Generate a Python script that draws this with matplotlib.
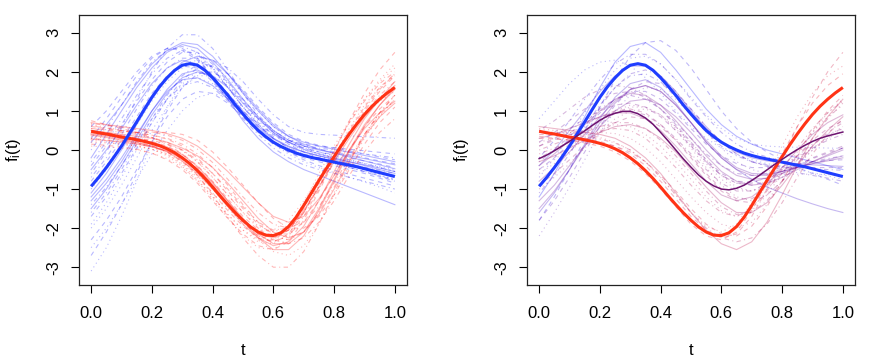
import numpy as np
import matplotlib
matplotlib.use("Agg")
import matplotlib.pyplot as plt

plt.rcParams['font.family'] = ['Liberation Sans', 'DejaVu Sans']

# ---------------- data ----------------
t_mean = [i * 0.025 for i in range(41)]
t_thin = [i * 0.05 for i in range(21)]

blue_mean = [-0.93, -0.70, -0.45, -0.18, 0.10, 0.41, 0.72, 1.04, 1.35, 1.62, 1.85, 2.04, 2.17, 2.21,
             2.17, 2.04, 1.85, 1.63, 1.40, 1.15, 0.92, 0.70, 0.50, 0.34, 0.20, 0.09, 0.00, -0.08,
             -0.14, -0.19, -0.23, -0.27, -0.31, -0.35, -0.39, -0.43, -0.48, -0.53, -0.58, -0.63, -0.68]
red_mean = [0.48, 0.44, 0.41, 0.37, 0.33, 0.30, 0.26, 0.22, 0.17, 0.11, 0.03, -0.07, -0.20, -0.35,
            -0.53, -0.73, -0.95, -1.18, -1.40, -1.61, -1.80, -1.97, -2.10, -2.18, -2.19, -2.12, -1.96,
            -1.72, -1.42, -1.10, -0.78, -0.47, -0.17, 0.13, 0.41, 0.67, 0.91, 1.12, 1.30, 1.46, 1.60]
purple_mean = [-0.22, -0.13, -0.02, 0.10, 0.22, 0.36, 0.49, 0.63, 0.76, 0.87, 0.94, 0.99, 0.99, 0.93,
               0.82, 0.66, 0.45, 0.23, 0.00, -0.23, -0.44, -0.64, -0.80, -0.92, -1.00, -1.02, -0.98,
               -0.90, -0.78, -0.65, -0.51, -0.37, -0.24, -0.11, 0.01, 0.12, 0.22, 0.30, 0.36, 0.41, 0.46]

blue_curves = [
    [-0.2, 0.4, 1.0, 1.6, 2.1, 2.5, 2.7, 2.6, 2.25, 1.8, 1.3, 0.85, 0.5, 0.25, 0.1, 0.0, -0.08, -0.15, -0.22, -0.3, -0.38],
    [-2.3, -1.8, -1.2, -0.5, 0.2, 0.85, 1.3, 1.5, 1.45, 1.2, 0.85, 0.5, 0.2, -0.05, -0.25, -0.4, -0.52, -0.62, -0.72, -0.82, -0.92],
    [-3.1, -2.5, -1.7, -0.8, 0.2, 1.1, 1.75, 2.0, 1.85, 1.45, 0.95, 0.5, 0.15, -0.1, -0.3, -0.45, -0.58, -0.7, -0.82, -0.95, -1.1],
    [-0.6, -0.05, 0.6, 1.3, 2.0, 2.6, 2.95, 2.95, 2.6, 2.05, 1.45, 0.9, 0.5, 0.25, 0.12, 0.05, 0.0, -0.05, -0.1, -0.15, -0.2],
    [-1.3, -0.85, -0.3, 0.35, 1.0, 1.55, 1.95, 2.05, 1.85, 1.45, 1.0, 0.6, 0.3, 0.1, -0.05, -0.15, -0.25, -0.35, -0.45, -0.55, -0.65],
    [0.3, 0.8, 1.35, 1.9, 2.35, 2.6, 2.6, 2.35, 1.9, 1.4, 0.95, 0.6, 0.35, 0.2, 0.1, 0.02, -0.05, -0.12, -0.2, -0.28, -0.35],
    [-1.0, -0.5, 0.05, 0.65, 1.25, 1.75, 2.1, 2.25, 2.15, 1.85, 1.45, 1.0, 0.6, 0.3, 0.1, -0.05, -0.15, -0.25, -0.35, -0.45, -0.55],
    [-1.6, -1.1, -0.5, 0.15, 0.8, 1.4, 1.9, 2.2, 2.3, 2.1, 1.75, 1.3, 0.9, 0.6, 0.45, 0.4, 0.38, 0.36, 0.34, 0.32, 0.3],
    [-0.5, 0.0, 0.55, 1.15, 1.7, 2.1, 2.3, 2.2, 1.8, 1.3, 0.75, 0.3, -0.05, -0.3, -0.5, -0.65, -0.8, -0.95, -1.1, -1.25, -1.4],
    [-0.8, -0.3, 0.25, 0.85, 1.45, 1.9, 2.15, 2.1, 1.75, 1.3, 0.85, 0.45, 0.15, -0.05, -0.2, -0.3, -0.4, -0.5, -0.6, -0.72, -0.85],
    [-1.9, -1.35, -0.7, 0.0, 0.7, 1.3, 1.7, 1.85, 1.7, 1.35, 0.9, 0.5, 0.2, 0.0, -0.15, -0.25, -0.35, -0.45, -0.55, -0.65, -0.75],
    [0.0, 0.55, 1.15, 1.75, 2.25, 2.55, 2.65, 2.5, 2.1, 1.6, 1.1, 0.7, 0.4, 0.2, 0.05, -0.05, -0.15, -0.25, -0.35, -0.45, -0.55],
    [-1.2, -0.75, -0.2, 0.4, 1.0, 1.5, 1.8, 1.85, 1.65, 1.3, 0.9, 0.55, 0.28, 0.08, -0.05, -0.15, -0.22, -0.3, -0.38, -0.46, -0.55],
    [-0.4, 0.1, 0.65, 1.25, 1.8, 2.25, 2.5, 2.5, 2.2, 1.75, 1.25, 0.8, 0.45, 0.2, 0.05, -0.05, -0.12, -0.2, -0.28, -0.36, -0.45],
    [-2.5, -2.0, -1.4, -0.75, -0.1, 0.5, 1.0, 1.35, 1.45, 1.35, 1.1, 0.8, 0.5, 0.25, 0.05, -0.1, -0.22, -0.34, -0.46, -0.58, -0.7],
    [-0.7, -0.2, 0.4, 1.05, 1.65, 2.1, 2.35, 2.35, 2.05, 1.6, 1.1, 0.65, 0.3, 0.05, -0.12, -0.25, -0.35, -0.45, -0.55, -0.66, -0.78],
    [-1.5, -1.0, -0.4, 0.25, 0.9, 1.45, 1.85, 2.0, 1.9, 1.6, 1.2, 0.8, 0.45, 0.2, 0.02, -0.1, -0.2, -0.3, -0.4, -0.5, -0.6],
    [0.6, 1.0, 1.5, 2.0, 2.4, 2.6, 2.55, 2.3, 1.9, 1.45, 1.0, 0.65, 0.4, 0.25, 0.15, 0.1, 0.06, 0.02, -0.02, -0.06, -0.1],
    [-2.0, -1.5, -0.9, -0.2, 0.5, 1.1, 1.6, 1.9, 1.9, 1.65, 1.25, 0.85, 0.5, 0.2, 0.0, -0.15, -0.28, -0.4, -0.52, -0.64, -0.76],
    [-0.3, 0.2, 0.8, 1.4, 1.95, 2.35, 2.55, 2.45, 2.1, 1.6, 1.1, 0.65, 0.3, 0.05, -0.1, -0.2, -0.28, -0.36, -0.44, -0.52, -0.6],
    [-1.1, -0.6, 0.0, 0.65, 1.3, 1.85, 2.25, 2.4, 2.3, 1.95, 1.5, 1.05, 0.65, 0.35, 0.15, 0.02, -0.08, -0.18, -0.28, -0.38, -0.48],
    [-2.7, -2.1, -1.4, -0.6, 0.25, 1.0, 1.6, 1.95, 2.0, 1.75, 1.3, 0.85, 0.45, 0.15, -0.05, -0.2, -0.32, -0.44, -0.56, -0.68, -0.8],
    [-0.9, -0.4, 0.15, 0.75, 1.35, 1.85, 2.2, 2.3, 2.1, 1.7, 1.2, 0.75, 0.4, 0.15, 0.0, -0.1, -0.18, -0.26, -0.34, -0.42, -0.5],
    [-1.4, -0.95, -0.4, 0.2, 0.8, 1.3, 1.65, 1.75, 1.6, 1.25, 0.8, 0.4, 0.05, -0.2, -0.38, -0.5, -0.6, -0.7, -0.8, -0.9, -1.0],
    [0.2, 0.65, 1.15, 1.7, 2.2, 2.55, 2.75, 2.7, 2.4, 1.95, 1.45, 1.0, 0.6, 0.35, 0.2, 0.1, 0.02, -0.06, -0.14, -0.22, -0.3],
    [-1.7, -1.2, -0.6, 0.05, 0.7, 1.3, 1.8, 2.1, 2.15, 1.95, 1.55, 1.1, 0.7, 0.4, 0.22, 0.12, 0.05, -0.02, -0.1, -0.18, -0.25],
]

red_curves = [
    [0.6, 0.55, 0.5, 0.45, 0.38, 0.28, 0.1, -0.2, -0.6, -1.05, -1.5, -1.9, -2.15, -2.15, -1.85, -1.3, -0.65, 0.0, 0.6, 1.05, 1.4],
    [0.35, 0.3, 0.25, 0.18, 0.08, -0.1, -0.38, -0.75, -1.2, -1.65, -2.05, -2.3, -2.3, -2.0, -1.35, -0.6, 0.1, 0.75, 1.3, 1.75, 2.1],
    [0.5, 0.45, 0.38, 0.3, 0.2, 0.02, -0.25, -0.65, -1.15, -1.7, -2.25, -2.7, -3.0, -3.0, -2.6, -1.9, -1.1, -0.3, 0.4, 0.95, 1.4],
    [0.7, 0.65, 0.6, 0.55, 0.5, 0.42, 0.3, 0.1, -0.2, -0.55, -0.95, -1.35, -1.7, -1.85, -1.7, -1.25, -0.65, 0.0, 0.55, 0.95, 1.25],
    [0.45, 0.38, 0.3, 0.22, 0.12, -0.05, -0.3, -0.65, -1.1, -1.55, -1.95, -2.25, -2.35, -2.15, -1.6, -0.85, -0.05, 0.75, 1.45, 2.05, 2.5],
    [0.25, 0.2, 0.15, 0.1, 0.02, -0.12, -0.35, -0.7, -1.1, -1.5, -1.85, -2.05, -2.05, -1.8, -1.3, -0.7, -0.1, 0.45, 0.9, 1.25, 1.5],
    [0.55, 0.5, 0.45, 0.4, 0.32, 0.2, 0.0, -0.3, -0.7, -1.15, -1.6, -2.0, -2.3, -2.4, -2.25, -1.85, -1.3, -0.65, -0.05, 0.45, 0.8],
    [0.4, 0.35, 0.28, 0.2, 0.1, -0.05, -0.28, -0.6, -1.0, -1.45, -1.9, -2.25, -2.45, -2.35, -1.95, -1.3, -0.55, 0.15, 0.8, 1.3, 1.75],
    [0.15, 0.12, 0.08, 0.02, -0.08, -0.25, -0.5, -0.85, -1.3, -1.75, -2.15, -2.45, -2.55, -2.35, -1.8, -1.05, -0.3, 0.4, 1.0, 1.5, 1.9],
    [0.65, 0.58, 0.5, 0.42, 0.32, 0.18, -0.02, -0.3, -0.7, -1.15, -1.6, -1.95, -2.1, -1.95, -1.45, -0.8, -0.15, 0.45, 0.95, 1.35, 1.65],
    [0.3, 0.26, 0.22, 0.16, 0.08, -0.05, -0.25, -0.55, -0.95, -1.4, -1.85, -2.2, -2.35, -2.2, -1.7, -1.0, -0.25, 0.45, 1.05, 1.55, 1.95],
    [0.5, 0.45, 0.4, 0.35, 0.3, 0.2, 0.05, -0.15, -0.45, -0.85, -1.3, -1.75, -2.1, -2.25, -2.1, -1.65, -1.0, -0.3, 0.35, 0.85, 1.2],
    [0.75, 0.65, 0.55, 0.45, 0.32, 0.15, -0.1, -0.45, -0.9, -1.4, -1.85, -2.2, -2.3, -2.05, -1.5, -0.75, 0.0, 0.7, 1.25, 1.7, 2.0],
    [0.2, 0.18, 0.15, 0.1, 0.02, -0.1, -0.3, -0.6, -1.0, -1.45, -1.9, -2.3, -2.6, -2.7, -2.45, -1.9, -1.15, -0.4, 0.3, 0.85, 1.3],
    [0.45, 0.4, 0.35, 0.3, 0.25, 0.15, 0.0, -0.25, -0.6, -1.0, -1.45, -1.85, -2.05, -2.0, -1.6, -0.95, -0.25, 0.4, 0.95, 1.4, 1.75],
    [0.38, 0.32, 0.25, 0.18, 0.1, -0.02, -0.22, -0.5, -0.9, -1.35, -1.8, -2.15, -2.25, -2.05, -1.55, -0.95, -0.3, 0.3, 0.85, 1.3, 1.65],
    [0.55, 0.52, 0.48, 0.45, 0.45, 0.45, 0.4, 0.25, -0.05, -0.45, -0.9, -1.35, -1.75, -2.0, -2.0, -1.7, -1.15, -0.5, 0.15, 0.7, 1.1],
    [0.3, 0.25, 0.2, 0.12, 0.02, -0.15, -0.42, -0.8, -1.25, -1.75, -2.2, -2.5, -2.55, -2.25, -1.6, -0.8, 0.0, 0.7, 1.3, 1.8, 2.2],
    [0.62, 0.56, 0.5, 0.44, 0.38, 0.3, 0.15, -0.1, -0.45, -0.9, -1.4, -1.85, -2.2, -2.3, -2.1, -1.6, -0.95, -0.25, 0.4, 0.95, 1.4],
    [0.42, 0.38, 0.33, 0.27, 0.2, 0.08, -0.12, -0.42, -0.82, -1.3, -1.8, -2.25, -2.55, -2.55, -2.2, -1.55, -0.8, -0.05, 0.6, 1.15, 1.6],
    [0.5, 0.44, 0.37, 0.3, 0.22, 0.1, -0.1, -0.4, -0.8, -1.25, -1.7, -2.05, -2.2, -2.05, -1.6, -0.95, -0.2, 0.5, 1.1, 1.6, 1.95],
    [0.1, 0.08, 0.05, 0.0, -0.08, -0.22, -0.45, -0.78, -1.2, -1.65, -2.05, -2.35, -2.4, -2.15, -1.6, -0.9, -0.15, 0.55, 1.15, 1.6, 1.9],
    [0.68, 0.63, 0.58, 0.52, 0.46, 0.38, 0.25, 0.02, -0.32, -0.75, -1.2, -1.6, -1.9, -2.0, -1.85, -1.45, -0.85, -0.2, 0.4, 0.9, 1.3],
    [0.28, 0.24, 0.2, 0.15, 0.08, -0.03, -0.2, -0.48, -0.85, -1.3, -1.75, -2.15, -2.4, -2.4, -2.1, -1.5, -0.75, 0.0, 0.65, 1.15, 1.55],
]

mix_curves = [
    [-1.2, -0.6, 0.1, 0.85, 1.6, 2.25, 2.65, 2.75, 2.5, 2.05, 1.55, 1.05, 0.65, 0.35, 0.15, 0.0, -0.1, -0.2, -0.3, -0.4, -0.5],
    [-1.8, -1.2, -0.5, 0.3, 1.1, 1.8, 2.4, 2.75, 2.8, 2.55, 2.1, 1.55, 1.0, 0.55, 0.2, -0.05, -0.25, -0.45, -0.6, -0.75, -0.9],
    [0.8, 1.25, 1.7, 2.05, 2.25, 2.3, 2.15, 1.85, 1.45, 1.0, 0.6, 0.3, 0.05, -0.12, -0.25, -0.35, -0.42, -0.5, -0.58, -0.66, -0.75],
    [-0.9, -0.45, 0.05, 0.6, 1.15, 1.6, 1.9, 1.95, 1.75, 1.35, 0.9, 0.45, 0.1, -0.15, -0.3, -0.38, -0.42, -0.45, -0.48, -0.5, -0.52],
    [-1.6, -1.1, -0.5, 0.15, 0.8, 1.35, 1.7, 1.8, 1.6, 1.2, 0.7, 0.2, -0.2, -0.5, -0.75, -0.95, -1.1, -1.25, -1.38, -1.5, -1.6],
    [-0.5, -0.2, 0.15, 0.55, 0.95, 1.3, 1.5, 1.5, 1.3, 0.95, 0.55, 0.15, -0.15, -0.35, -0.45, -0.45, -0.4, -0.35, -0.3, -0.27, -0.25],
    [-2.2, -1.6, -0.95, -0.25, 0.45, 1.0, 1.4, 1.6, 1.55, 1.3, 0.9, 0.45, 0.05, -0.3, -0.5, -0.6, -0.62, -0.62, -0.62, -0.63, -0.65],
    [-0.3, 0.0, 0.35, 0.7, 1.05, 1.3, 1.4, 1.3, 1.05, 0.7, 0.3, -0.1, -0.4, -0.6, -0.65, -0.6, -0.5, -0.4, -0.3, -0.22, -0.15],
    [-1.3, -0.9, -0.4, 0.1, 0.6, 1.0, 1.25, 1.3, 1.15, 0.85, 0.45, 0.0, -0.4, -0.65, -0.75, -0.72, -0.6, -0.45, -0.3, -0.15, 0.0],
    [0.1, 0.3, 0.55, 0.8, 1.0, 1.15, 1.2, 1.1, 0.85, 0.5, 0.1, -0.3, -0.65, -0.85, -0.9, -0.8, -0.6, -0.4, -0.2, -0.05, 0.1],
    [-0.6, -0.35, -0.05, 0.3, 0.65, 0.95, 1.1, 1.1, 0.9, 0.55, 0.1, -0.35, -0.75, -1.0, -1.05, -0.9, -0.6, -0.25, 0.05, 0.3, 0.5],
    [-0.2, 0.0, 0.25, 0.5, 0.75, 0.95, 1.0, 0.9, 0.65, 0.3, -0.1, -0.5, -0.85, -1.05, -1.05, -0.85, -0.5, -0.15, 0.15, 0.4, 0.55],
    [0.3, 0.4, 0.55, 0.7, 0.85, 0.95, 0.95, 0.8, 0.5, 0.1, -0.35, -0.8, -1.15, -1.3, -1.2, -0.9, -0.45, 0.0, 0.4, 0.7, 0.9],
    [-0.9, -0.6, -0.25, 0.1, 0.45, 0.7, 0.85, 0.8, 0.6, 0.25, -0.15, -0.6, -1.0, -1.25, -1.25, -1.0, -0.6, -0.15, 0.25, 0.55, 0.75],
    [0.2, 0.3, 0.4, 0.5, 0.6, 0.65, 0.6, 0.4, 0.1, -0.3, -0.75, -1.2, -1.55, -1.7, -1.55, -1.15, -0.6, -0.05, 0.45, 0.85, 1.15],
    [-0.1, 0.05, 0.2, 0.35, 0.5, 0.55, 0.5, 0.3, -0.05, -0.45, -0.9, -1.3, -1.6, -1.7, -1.5, -1.05, -0.5, 0.05, 0.55, 0.95, 1.25],
    [0.6, 0.55, 0.5, 0.45, 0.4, 0.3, 0.1, -0.2, -0.6, -1.1, -1.6, -2.05, -2.4, -2.55, -2.35, -1.85, -1.15, -0.4, 0.3, 0.85, 1.3],
    [0.4, 0.38, 0.35, 0.3, 0.22, 0.1, -0.1, -0.4, -0.8, -1.25, -1.7, -2.05, -2.25, -2.15, -1.7, -1.0, -0.2, 0.6, 1.35, 2.0, 2.5],
    [0.55, 0.5, 0.45, 0.4, 0.32, 0.2, 0.0, -0.3, -0.7, -1.15, -1.6, -1.95, -2.1, -1.9, -1.35, -0.65, 0.1, 0.85, 1.45, 1.9, 2.15],
    [0.5, 0.45, 0.4, 0.35, 0.28, 0.18, 0.0, -0.3, -0.7, -1.15, -1.6, -2.0, -2.25, -2.35, -2.25, -1.9, -1.35, -0.7, -0.1, 0.4, 0.8],
    [-0.8, -0.45, -0.05, 0.4, 0.85, 1.25, 1.55, 1.65, 1.5, 1.15, 0.7, 0.2, -0.2, -0.5, -0.65, -0.65, -0.55, -0.45, -0.35, -0.28, -0.2],
    [-1.8, -1.3, -0.7, -0.05, 0.6, 1.15, 1.55, 1.75, 1.7, 1.45, 1.05, 0.6, 0.2, -0.1, -0.3, -0.4, -0.45, -0.45, -0.45, -0.45, -0.45],
    [-1.0, -0.7, -0.35, 0.05, 0.45, 0.8, 1.0, 1.05, 0.9, 0.6, 0.2, -0.25, -0.65, -0.95, -1.05, -0.95, -0.7, -0.35, 0.0, 0.3, 0.55],
    [0.0, 0.15, 0.3, 0.45, 0.6, 0.7, 0.7, 0.55, 0.25, -0.15, -0.6, -1.05, -1.45, -1.65, -1.6, -1.3, -0.8, -0.25, 0.3, 0.8, 1.2],
    [-0.4, 0.0, 0.5, 1.0, 1.5, 1.9, 2.15, 2.15, 1.9, 1.5, 1.0, 0.55, 0.2, -0.05, -0.2, -0.28, -0.32, -0.35, -0.38, -0.4, -0.42],
    [0.35, 0.3, 0.25, 0.18, 0.1, -0.05, -0.28, -0.6, -1.0, -1.45, -1.9, -2.2, -2.3, -2.1, -1.55, -0.85, -0.1, 0.6, 1.2, 1.65, 1.95],
    [-0.7, -0.2, 0.35, 0.95, 1.55, 2.05, 2.35, 2.4, 2.2, 1.8, 1.35, 0.9, 0.55, 0.3, 0.15, 0.1, 0.08, 0.07, 0.06, 0.05, 0.04],
    [0.5, 0.75, 1.05, 1.35, 1.55, 1.65, 1.6, 1.4, 1.05, 0.6, 0.15, -0.3, -0.65, -0.85, -0.85, -0.7, -0.45, -0.2, 0.05, 0.25, 0.4],
    [-1.5, -1.05, -0.5, 0.1, 0.7, 1.2, 1.55, 1.65, 1.5, 1.15, 0.7, 0.25, -0.15, -0.45, -0.6, -0.62, -0.55, -0.45, -0.35, -0.25, -0.15],
    [0.1, 0.25, 0.45, 0.65, 0.85, 1.0, 1.05, 0.95, 0.65, 0.25, -0.2, -0.65, -1.05, -1.3, -1.35, -1.15, -0.8, -0.35, 0.1, 0.45, 0.7],
    [0.45, 0.45, 0.45, 0.45, 0.45, 0.42, 0.3, 0.05, -0.3, -0.75, -1.2, -1.6, -1.9, -2.0, -1.85, -1.4, -0.8, -0.15, 0.45, 0.95, 1.3],
    [-1.1, -0.65, -0.1, 0.5, 1.1, 1.6, 1.95, 2.05, 1.9, 1.5, 1.05, 0.6, 0.2, -0.1, -0.3, -0.42, -0.5, -0.58, -0.65, -0.72, -0.8],
    [-0.4, -0.1, 0.25, 0.65, 1.0, 1.3, 1.45, 1.4, 1.15, 0.75, 0.3, -0.15, -0.55, -0.8, -0.9, -0.85, -0.7, -0.5, -0.3, -0.12, 0.05],
    [0.3, 0.28, 0.25, 0.22, 0.18, 0.1, -0.05, -0.3, -0.65, -1.05, -1.5, -1.9, -2.15, -2.2, -1.95, -1.45, -0.8, -0.1, 0.5, 1.0, 1.4],
    [-0.5, -0.25, 0.05, 0.4, 0.75, 1.0, 1.15, 1.1, 0.9, 0.5, 0.05, -0.45, -0.9, -1.2, -1.3, -1.15, -0.8, -0.4, 0.0, 0.35, 0.6],
    [-0.2, 0.25, 0.75, 1.3, 1.8, 2.2, 2.45, 2.45, 2.2, 1.8, 1.3, 0.85, 0.45, 0.15, -0.05, -0.18, -0.28, -0.38, -0.48, -0.58, -0.68],
    [-0.3, -0.15, 0.05, 0.25, 0.45, 0.6, 0.65, 0.55, 0.3, -0.05, -0.5, -0.95, -1.35, -1.6, -1.6, -1.35, -0.9, -0.4, 0.1, 0.5, 0.85],
    [0.2, 0.45, 0.75, 1.05, 1.3, 1.45, 1.5, 1.35, 1.05, 0.65, 0.2, -0.25, -0.6, -0.8, -0.82, -0.72, -0.55, -0.38, -0.22, -0.08, 0.05],
]
# membership weight of the blue group for each mixed curve
mix_weights = [1.0, 0.9, 0.95, 0.85, 0.8, 0.75, 0.7, 0.65, 0.6, 0.55, 0.5, 0.5, 0.45, 0.4,
               0.35, 0.3, 0.25, 0.2, 0.15, 0.3, 0.6, 0.7, 0.45, 0.35, 0.8, 0.1, 0.9, 0.55,
               0.65, 0.4, 0.3, 0.75, 0.55, 0.2, 0.45, 0.85, 0.35, 0.6]

x_ticks = [0.0, 0.2, 0.4, 0.6, 0.8, 1.0]
x_ticklabels = ["0.0", "0.2", "0.4", "0.6", "0.8", "1.0"]
y_ticks = [-3, -2, -1, 0, 1, 2, 3]
y_ticklabels = ["-3", "-2", "-1", "0", "1", "2", "3"]

# ---------------- style ----------------
LTYS = ['-', (0, (4, 4)), (0, (1, 3)), (0, (1, 3, 4, 3))]
BLUE_THIN = (0.0, 0.0, 1.0)
RED_THIN = (1.0, 0.0, 0.0)
BLUE_MEAN = '#1f3dff'
RED_MEAN = '#ff3315'
PURPLE_MEAN = '#6e1470'
THIN_ALPHA = 0.28
THIN_LW = 0.8

W, H = 896, 362
fig = plt.figure(figsize=(W / 100, H / 100), dpi=100)
axL = fig.add_axes([79 / W, (H - 285) / H, 328 / W, 270 / H])
axR = fig.add_axes([527 / W, (H - 285) / H, 328 / W, 270 / H])


def style_axes(ax):
    ax.set_xlim(-0.04, 1.04)
    ax.set_ylim(-3.456, 3.456)
    ax.set_xticks(x_ticks)
    ax.set_xticklabels(x_ticklabels)
    ax.set_yticks(y_ticks)
    ax.set_yticklabels(y_ticklabels, rotation=90, va='center')
    ax.tick_params(direction='out', length=6, width=0.8, labelsize=12, colors='black')
    ax.tick_params(axis='x', pad=9)
    ax.tick_params(axis='y', pad=7)
    for s in ax.spines.values():
        s.set_linewidth(0.9)
        s.set_color('#222222')
    ax.set_xlabel('t', fontsize=12)
    ax.set_ylabel(r'$\mathregular{f_i(t)}$', fontsize=12)
    ax.xaxis.set_label_coords(0.5, -0.215)
    ax.yaxis.set_label_coords(-0.172, 0.5)


# left panel
for i, c in enumerate(blue_curves):
    axL.plot(t_thin, c, color=BLUE_THIN, alpha=THIN_ALPHA, lw=THIN_LW, ls=LTYS[i % 4])
for i, c in enumerate(red_curves):
    axL.plot(t_thin, c, color=RED_THIN, alpha=THIN_ALPHA, lw=THIN_LW, ls=LTYS[(i + 1) % 4])
axL.plot(t_mean, red_mean, color=RED_MEAN, lw=2.2, solid_capstyle='butt')
axL.plot(t_mean, blue_mean, color=BLUE_MEAN, lw=2.2, solid_capstyle='butt')
style_axes(axL)

# right panel
for i, (c, w) in enumerate(zip(mix_curves, mix_weights)):
    col = (1.0 - w, 0.0, w)
    axR.plot(t_thin, c, color=col, alpha=THIN_ALPHA, lw=THIN_LW, ls=LTYS[i % 4])
axR.plot(t_mean, blue_mean, color=BLUE_MEAN, lw=2.2, solid_capstyle='butt')
axR.plot(t_mean, red_mean, color=RED_MEAN, lw=2.2, solid_capstyle='butt')
axR.plot(t_mean, purple_mean, color=PURPLE_MEAN, lw=1.1)
style_axes(axR)

fig.savefig('out.png', dpi=100)
